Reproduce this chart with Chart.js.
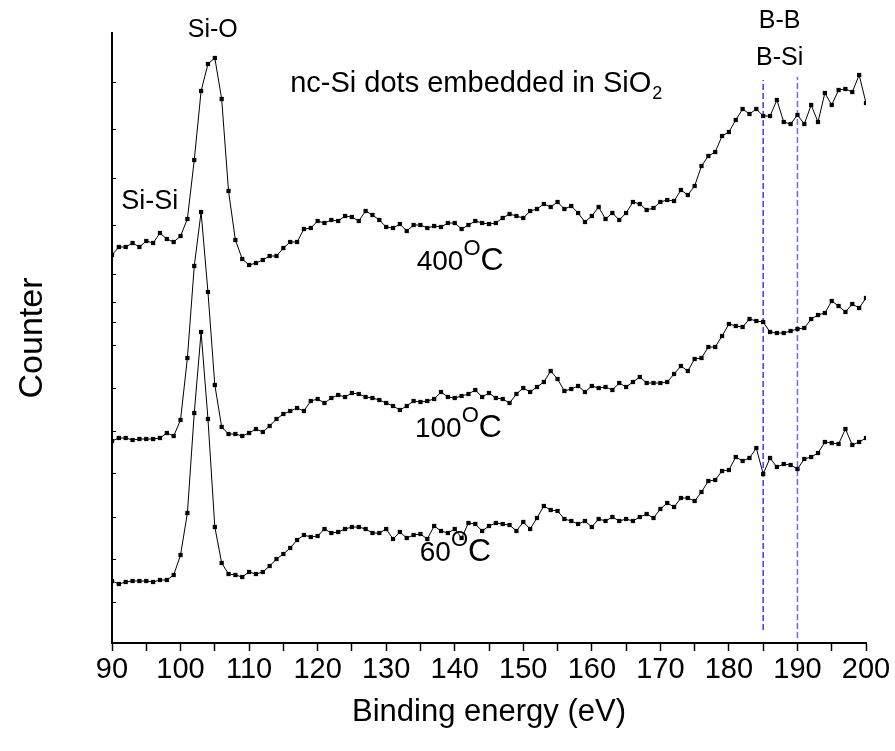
<!DOCTYPE html>
<html>
<head>
<meta charset="utf-8">
<script src="https://cdn.jsdelivr.net/npm/chart.js@4.4.0/dist/chart.umd.min.js"></script>
<style>
  html, body { margin: 0; padding: 0; background: #fff; }
  #wrap { width: 895px; height: 751px; }
</style>
</head>
<body>
<div id="wrap"><canvas id="xps" width="895" height="751"></canvas></div>
<script>
// XPS spectra, nc-Si dots in SiO2 (arbitrary counts, curves offset vertically)
const energyStart = 90;   // eV, first channel
const energyStep = 1;     // eV per channel

const counts400 = [
  388, 396, 396, 400, 396, 402, 400, 410, 404, 401,
  407, 424, 483, 552, 579, 585, 544, 452, 403, 384,
  378, 380, 383, 387, 387, 395, 401, 401, 414, 415,
  422, 420, 423, 422, 427, 426, 422, 432, 428, 423,
  416, 415, 419, 412, 418, 418, 415, 417, 416, 420,
  420, 414, 418, 422, 420, 419, 420, 425, 429, 427,
  425, 432, 434, 439, 436, 441, 434, 437, 430, 421,
  427, 436, 424, 430, 423, 430, 441, 439, 433, 435,
  441, 443, 442, 453, 448, 457, 477, 487, 491, 507,
  511, 523, 534, 529, 534, 527, 527, 543, 521, 519,
  528, 519, 538, 521, 550, 538, 553, 554, 551, 568,
  540
];

const counts100 = [
  202, 205, 205, 203, 204, 204, 204, 205, 210, 207,
  223, 285, 377, 431, 351, 258, 216, 209, 209, 207,
  210, 214, 211, 217, 224, 229, 232, 235, 232, 242,
  244, 240, 245, 248, 246, 250, 249, 246, 245, 243,
  240, 237, 233, 237, 242, 241, 242, 244, 251, 246,
  245, 247, 249, 253, 246, 250, 245, 244, 240, 249,
  255, 251, 256, 261, 272, 264, 252, 254, 257, 251,
  257, 255, 256, 253, 260, 256, 261, 266, 260, 260,
  260, 261, 269, 277, 272, 284, 285, 296, 296, 307,
  319, 317, 316, 324, 322, 321, 311, 310, 310, 312,
  314, 315, 324, 328, 330, 342, 337, 331, 339, 335,
  345
];

const counts60 = [
  62, 59, 61, 62, 62, 62, 61, 63, 63, 68,
  88, 130, 230, 311, 224, 116, 80, 69, 68, 66,
  71, 69, 71, 77, 84, 89, 95, 103, 108, 106,
  107, 114, 110, 111, 114, 116, 116, 114, 110, 110,
  114, 104, 111, 105, 108, 109, 104, 117, 112, 110,
  114, 105, 120, 119, 112, 117, 120, 119, 118, 112,
  121, 114, 125, 137, 133, 132, 124, 122, 119, 122,
  116, 124, 122, 126, 122, 124, 122, 126, 129, 125,
  134, 140, 136, 145, 145, 142, 151, 162, 163, 172,
  173, 186, 182, 185, 195, 169, 185, 176, 179, 178,
  174, 184, 186, 190, 201, 200, 199, 214, 198, 201,
  205
];

const xTickLabels = [90, 100, 110, 120, 130, 140, 150, 160, 170, 180, 190, 200];
const yTickMarks = [41, 84, 126, 170, 212, 255, 298, 321, 341, 369, 417, 465, 514, 561];

// reference lines for B-B and B-Si (energy, lower and upper count)
const refLines = [
  { energy: 185, from: 13, to: 563, color: '#3b3bff' },
  { energy: 190, from: 5, to: 566, color: '#6a6aff' }
];

// free text labels, placed in data coordinates
const peakLabels = [
  { text: 'Si-O', energy: 104.7, count: 613, size: 25 },
  { text: 'Si-Si', energy: 95.5, count: 441, size: 27 },
  { text: 'B-B', energy: 187.4, count: 622, size: 25 },
  { text: 'B-Si', energy: 187.4, count: 585, size: 25 }
];
const tempLabels = [
  { value: '400', energy: 134.45, count: 373 },
  { value: '100', energy: 134.2, count: 206 },
  { value: '60', energy: 134.9, count: 82 }
];
const sampleNote = { energy: 116.0, count: 551 };

const FONT = "'Liberation Sans', Arial, sans-serif";

function toPoints(counts) {
  return counts.map((v, i) => ({ x: energyStart + i * energyStep, y: v }));
}

function spectrum(counts) {
  return {
    data: toPoints(counts),
    borderColor: '#000',
    backgroundColor: '#000',
    borderWidth: 1,
    pointStyle: 'rect',
    pointRadius: 3,
    pointBorderWidth: 0,
    tension: 0
  };
}

const datasets = [spectrum(counts400), spectrum(counts100), spectrum(counts60)];
refLines.forEach(r => {
  datasets.push({
    data: [{ x: r.energy, y: r.from }, { x: r.energy, y: r.to }],
    borderColor: r.color,
    borderWidth: 1.5,
    borderDash: [6, 3],
    pointRadius: 0
  });
});

// draws the peak names, temperatures and the sample note
const labelPlugin = {
  id: 'labels',
  afterDatasetsDraw(chart) {
    const ctx = chart.ctx;
    const xs = chart.scales.x, ys = chart.scales.y;
    ctx.save();
    ctx.fillStyle = '#000';

    ctx.textAlign = 'center';
    ctx.textBaseline = 'middle';
    peakLabels.forEach(l => {
      ctx.font = l.size + 'px ' + FONT;
      ctx.fillText(l.text, xs.getPixelForValue(l.energy), ys.getPixelForValue(l.count));
    });

    ctx.textAlign = 'left';
    ctx.textBaseline = 'alphabetic';
    tempLabels.forEach(l => {
      let x = xs.getPixelForValue(l.energy);
      const y = ys.getPixelForValue(l.count);
      ctx.font = '28px ' + FONT;
      ctx.fillText(l.value, x, y);
      x += ctx.measureText(l.value).width;
      ctx.font = '22px ' + FONT;
      ctx.fillText('O', x, y - 15);
      x += ctx.measureText('O').width;
      ctx.font = '32px ' + FONT;
      ctx.fillText('C', x, y);
    });

    // nc-Si dots embedded in SiO2
    let x = xs.getPixelForValue(sampleNote.energy);
    const y = ys.getPixelForValue(sampleNote.count);
    ctx.font = '29px ' + FONT;
    const main = 'nc-Si dots embedded in SiO';
    ctx.fillText(main, x, y);
    x += ctx.measureText(main).width;
    ctx.font = '18px ' + FONT;
    ctx.fillText('2', x + 1, y + 7);
    ctx.restore();
  }
};

new Chart(document.getElementById('xps'), {
  type: 'line',
  data: { datasets: datasets },
  plugins: [labelPlugin],
  options: {
    responsive: false,
    animation: false,
    events: [],
    layout: { padding: { left: 0, right: 29, top: 33, bottom: 0 } },
    plugins: { legend: { display: false }, tooltip: { enabled: false } },
    scales: {
      x: {
        type: 'linear',
        min: 90,
        max: 200,
        afterFit(scale) { scale.height = 108; },
        border: { display: true, color: '#000', width: 2 },
        grid: { drawOnChartArea: false, color: '#000', tickLength: 8, tickWidth: 1.5 },
        ticks: {
          stepSize: 5,
          autoSkip: false,
          maxRotation: 0,
          padding: 2,
          color: '#000',
          font: { family: FONT, size: 29 },
          callback: v => xTickLabels.includes(v) ? String(v) : ''
        },
        title: {
          display: true,
          text: 'Binding energy (eV)',
          color: '#000',
          font: { family: FONT, size: 31 },
          padding: { top: 0, bottom: 20 }
        }
      },
      y: {
        type: 'linear',
        min: 0,
        max: 610,
        afterFit(scale) { scale.width = 112; },
        afterBuildTicks(scale) { scale.ticks = yTickMarks.map(v => ({ value: v })); },
        border: { display: true, color: '#000', width: 2 },
        grid: { drawOnChartArea: false, color: '#000', tickLength: -4, tickWidth: 1 },
        ticks: { display: false },
        title: {
          display: true,
          text: 'Counter',
          color: '#000',
          font: { family: FONT, size: 34 },
          padding: { top: 12, bottom: 0 }
        }
      }
    }
  }
});
</script>
</body>
</html>
